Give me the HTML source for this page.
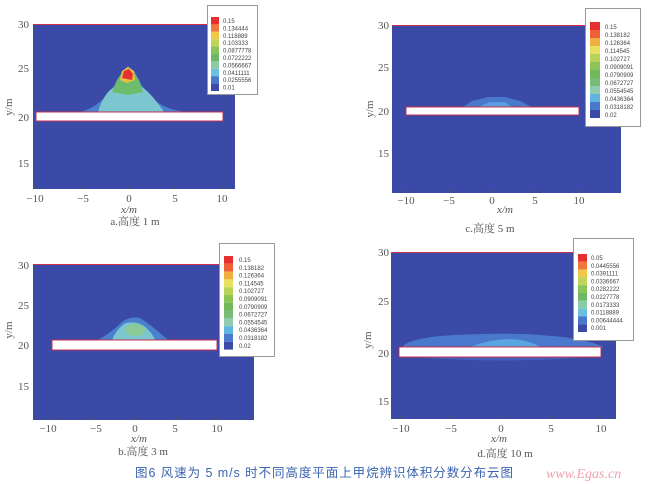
<!DOCTYPE html>
<html><head><meta charset="utf-8"><style>
html,body{margin:0;padding:0;background:#fff;}
svg{display:block}
.t{font-family:"Liberation Serif","Noto Serif CJK SC",serif;fill:#555;font-size:11px}
.l{font-family:"Liberation Sans",sans-serif;fill:#444;font-size:6px}
.k{stroke:#555;stroke-width:1}
</style></head><body>
<svg width="650" height="484" viewBox="0 0 650 484" xmlns="http://www.w3.org/2000/svg">
<rect width="650" height="484" fill="#fff"/>
<!-- Panel a -->
<rect x="33" y="24" width="202" height="165" fill="#3a4aa6"/>
<line x1="33" y1="24.5" x2="210" y2="24.5" stroke="#d03050" stroke-width="1"/>
<path d="M80,112 Q95,108 105,97 Q118,82 122,72 L128,66 L135,72 Q140,85 152,98 Q165,110 187,112 Z" fill="#4a80cc"/>
<path d="M98,112 Q102,98 110,90 Q118,84 128,83 Q140,84 148,92 Q156,100 164,112 Z" fill="#7cc6d0"/>
<polygon points="112,92 117,80 123,71 133,71 139,80 143,92 128,95" fill="#6cbc6c"/>
<polygon points="120,80 122,71 128,67 134,71 135,80 127,83" fill="#e8c040"/>
<polygon points="122,78 124,71 129,69 133,74 132,80" fill="#e63030"/>
<rect x="36" y="112" width="187" height="9" fill="#fff" stroke="#c83050" stroke-width="1"/>
<g class="k"><line x1="35" y1="189" x2="35" y2="186"/><line x1="82" y1="189" x2="82" y2="186"/><line x1="129" y1="189" x2="129" y2="186"/><line x1="175" y1="189" x2="175" y2="186"/><line x1="222" y1="189" x2="222" y2="186"/></g>
<g class="t" text-anchor="end"><text x="29" y="28">30</text><text x="29" y="72">25</text><text x="29" y="121">20</text><text x="29" y="167">15</text></g>
<g class="t" text-anchor="middle"><text x="35" y="202">−10</text><text x="83" y="202">−5</text><text x="129" y="202">0</text><text x="175" y="202">5</text><text x="222" y="202">10</text>
<text x="129" y="213" font-style="italic">x/m</text><text x="135" y="225">a.高度 1 m</text></g>
<text class="t" transform="translate(12,107) rotate(-90)" text-anchor="middle">y/m</text>
<rect x="207.5" y="5.5" width="50" height="89" fill="#fff" stroke="#999"/>
<g>
<rect x="211" y="17" width="8" height="7.4" fill="#e63030"/><rect x="211" y="24.4" width="8" height="7.4" fill="#f07838"/><rect x="211" y="31.8" width="8" height="7.4" fill="#f0c848"/><rect x="211" y="39.2" width="8" height="7.4" fill="#c0d458"/><rect x="211" y="46.6" width="8" height="7.4" fill="#88c458"/><rect x="211" y="54" width="8" height="7.4" fill="#6cb866"/><rect x="211" y="61.4" width="8" height="7.4" fill="#8ccaa8"/><rect x="211" y="68.8" width="8" height="7.4" fill="#6cc0e0"/><rect x="211" y="76.2" width="8" height="7.4" fill="#4a78cc"/><rect x="211" y="83.6" width="8" height="7.4" fill="#3a4aa6"/>
</g>
<g class="l"><text x="223" y="23">0.15</text><text x="223" y="30.4">0.134444</text><text x="223" y="37.8">0.118889</text><text x="223" y="45.2">0.103333</text><text x="223" y="52.6">0.0877778</text><text x="223" y="60">0.0722222</text><text x="223" y="67.4">0.0566667</text><text x="223" y="74.8">0.0411111</text><text x="223" y="82.2">0.0255556</text><text x="223" y="89.6">0.01</text></g>

<!-- Panel c -->
<rect x="392" y="25" width="229" height="168" fill="#3a4aa6"/>
<line x1="392" y1="25.5" x2="585" y2="25.5" stroke="#d03050"/>
<polygon points="463,107 472,101 488,97 505,97 520,101 532,107" fill="#4a78cc"/>
<polygon points="478,107 490,102 505,102 512,107" fill="#5a9ee0"/>
<rect x="406" y="107" width="173" height="8" fill="#fff" stroke="#c83050"/>
<g class="k"><line x1="406" y1="193" x2="406" y2="190"/><line x1="449" y1="193" x2="449" y2="190"/><line x1="492" y1="193" x2="492" y2="190"/><line x1="535" y1="193" x2="535" y2="190"/><line x1="579" y1="193" x2="579" y2="190"/></g>
<g class="t" text-anchor="end"><text x="389" y="29">30</text><text x="389" y="71">25</text><text x="389" y="115">20</text><text x="389" y="157">15</text></g>
<g class="t" text-anchor="middle"><text x="406" y="204">−10</text><text x="449" y="204">−5</text><text x="492" y="204">0</text><text x="535" y="204">5</text><text x="579" y="204">10</text>
<text x="505" y="213" font-style="italic">x/m</text><text x="490" y="232">c.高度 5 m</text></g>
<text class="t" transform="translate(373,109) rotate(-90)" text-anchor="middle">y/m</text>
<rect x="585.5" y="8.5" width="55" height="118" fill="#fff" stroke="#999"/>
<g>
<rect x="590" y="22" width="10" height="8" fill="#e63030"/><rect x="590" y="30" width="10" height="8" fill="#f06038"/><rect x="590" y="38" width="10" height="8" fill="#f0b040"/><rect x="590" y="46" width="10" height="8" fill="#e8e060"/><rect x="590" y="54" width="10" height="8" fill="#b8d458"/><rect x="590" y="62" width="10" height="8" fill="#8cc458"/><rect x="590" y="70" width="10" height="8" fill="#70b858"/><rect x="590" y="78" width="10" height="8" fill="#78bc78"/><rect x="590" y="86" width="10" height="8" fill="#90ccb0"/><rect x="590" y="94" width="10" height="8" fill="#60b4e0"/><rect x="590" y="102" width="10" height="8" fill="#4a78cc"/><rect x="590" y="110" width="10" height="8" fill="#3a4aa6"/>
</g>
<g class="l"><text x="605" y="29">0.15</text><text x="605" y="37">0.138182</text><text x="605" y="45">0.126364</text><text x="605" y="53">0.114545</text><text x="605" y="61">0.102727</text><text x="605" y="69">0.0909091</text><text x="605" y="77">0.0790909</text><text x="605" y="85">0.0672727</text><text x="605" y="93">0.0554545</text><text x="605" y="101">0.0436364</text><text x="605" y="109">0.0318182</text><text x="605" y="117">0.02</text></g>

<!-- Panel b -->
<rect x="33" y="264" width="221" height="156" fill="#3a4aa6"/>
<line x1="33" y1="264.5" x2="219" y2="264.5" stroke="#d03050"/>
<path d="M98,340 Q112,332 122,322 Q130,316 140,318 Q150,324 168,340 Z" fill="#4a80cc"/>
<path d="M112,340 Q116,330 124,324 Q134,320 144,326 Q152,332 155,340 Z" fill="#7cc6d0"/>
<ellipse cx="135" cy="330" rx="10" ry="6" fill="#8cca98"/>
<rect x="52" y="340" width="165" height="10" fill="#fff" stroke="#c83050"/>
<g class="k"><line x1="52" y1="420" x2="52" y2="417"/><line x1="93" y1="420" x2="93" y2="417"/><line x1="135" y1="420" x2="135" y2="417"/><line x1="176" y1="420" x2="176" y2="417"/><line x1="217" y1="420" x2="217" y2="417"/></g>
<g class="t" text-anchor="end"><text x="29" y="269">30</text><text x="29" y="309">25</text><text x="29" y="349">20</text><text x="29" y="390">15</text></g>
<g class="t" text-anchor="middle"><text x="48" y="432">−10</text><text x="96" y="432">−5</text><text x="135" y="432">0</text><text x="175" y="432">5</text><text x="217" y="432">10</text>
<text x="139" y="442" font-style="italic">x/m</text><text x="143" y="455">b.高度 3 m</text></g>
<text class="t" transform="translate(12,330) rotate(-90)" text-anchor="middle">y/m</text>
<rect x="219.5" y="243.5" width="55" height="113" fill="#fff" stroke="#999"/>
<g>
<rect x="224" y="256" width="9" height="7.8" fill="#e63030"/><rect x="224" y="263.8" width="9" height="7.8" fill="#f06038"/><rect x="224" y="271.6" width="9" height="7.8" fill="#f0b040"/><rect x="224" y="279.4" width="9" height="7.8" fill="#e8e060"/><rect x="224" y="287.2" width="9" height="7.8" fill="#b8d458"/><rect x="224" y="295" width="9" height="7.8" fill="#8cc458"/><rect x="224" y="302.8" width="9" height="7.8" fill="#70b858"/><rect x="224" y="310.6" width="9" height="7.8" fill="#78bc78"/><rect x="224" y="318.4" width="9" height="7.8" fill="#90ccb0"/><rect x="224" y="326.2" width="9" height="7.8" fill="#60b4e0"/><rect x="224" y="334" width="9" height="7.8" fill="#4a78cc"/><rect x="224" y="341.8" width="9" height="7.8" fill="#3a4aa6"/>
</g>
<g class="l"><text x="239" y="262">0.15</text><text x="239" y="269.8">0.138182</text><text x="239" y="277.6">0.126364</text><text x="239" y="285.4">0.114545</text><text x="239" y="293.2">0.102727</text><text x="239" y="301">0.0909091</text><text x="239" y="308.8">0.0790909</text><text x="239" y="316.6">0.0672727</text><text x="239" y="324.4">0.0554545</text><text x="239" y="332.2">0.0436364</text><text x="239" y="340">0.0318182</text><text x="239" y="347.8">0.02</text></g>

<!-- Panel d -->
<rect x="391" y="252" width="225" height="167" fill="#3a4aa6"/>
<line x1="391" y1="252.5" x2="574" y2="252.5" stroke="#d03050"/>
<path d="M403,347 Q405,340 440,336 Q480,333 520,334 Q580,336 604,347 Z" fill="#4a78cc"/>
<path d="M470,347 Q490,339 510,339 Q530,340 540,347 Z" fill="#5aa4e0"/>
<path d="M415,357 Q500,364 590,357 Z" fill="#4560bc"/>
<rect x="399" y="347" width="202" height="10" fill="#fff" stroke="#c83050"/>
<g class="k"><line x1="401" y1="419" x2="401" y2="416"/><line x1="451" y1="419" x2="451" y2="416"/><line x1="501" y1="419" x2="501" y2="416"/><line x1="551" y1="419" x2="551" y2="416"/><line x1="601" y1="419" x2="601" y2="416"/></g>
<g class="t" text-anchor="end"><text x="389" y="256">30</text><text x="389" y="305">25</text><text x="389" y="357">20</text><text x="389" y="405">15</text></g>
<g class="t" text-anchor="middle"><text x="401" y="432">−10</text><text x="451" y="432">−5</text><text x="501" y="432">0</text><text x="551" y="432">5</text><text x="601" y="432">10</text>
<text x="499" y="442" font-style="italic">x/m</text><text x="505" y="457">d.高度 10 m</text></g>
<text class="t" transform="translate(371,340) rotate(-90)" text-anchor="middle">y/m</text>
<rect x="573.5" y="238.5" width="60" height="102" fill="#fff" stroke="#999"/>
<g>
<rect x="578" y="254" width="9" height="7.8" fill="#e63030"/><rect x="578" y="261.8" width="9" height="7.8" fill="#f07838"/><rect x="578" y="269.6" width="9" height="7.8" fill="#f0c848"/><rect x="578" y="277.4" width="9" height="7.8" fill="#c0d458"/><rect x="578" y="285.2" width="9" height="7.8" fill="#88c458"/><rect x="578" y="293" width="9" height="7.8" fill="#6cb866"/><rect x="578" y="300.8" width="9" height="7.8" fill="#8ccaa8"/><rect x="578" y="308.6" width="9" height="7.8" fill="#6cc0e0"/><rect x="578" y="316.4" width="9" height="7.8" fill="#4a78cc"/><rect x="578" y="324.2" width="9" height="7.8" fill="#3a4aa6"/>
</g>
<g class="l"><text x="591" y="260">0.05</text><text x="591" y="267.8">0.0445556</text><text x="591" y="275.6">0.0391111</text><text x="591" y="283.4">0.0336667</text><text x="591" y="291.2">0.0282222</text><text x="591" y="299">0.0227778</text><text x="591" y="306.8">0.0173333</text><text x="591" y="314.6">0.0118889</text><text x="591" y="322.4">0.00644444</text><text x="591" y="330.2">0.001</text></g>

<text x="135" y="477" font-family="'Liberation Sans','Noto Sans CJK SC',sans-serif" font-size="12.5" fill="#3a64b0" textLength="378">图6  风速为 5 m/s 时不同高度平面上甲烷辨识体积分数分布云图</text>
<text x="546" y="478" font-family="'Liberation Serif',serif" font-style="italic" font-size="14" fill="#f0a0b0">www.Egas.cn</text>
</svg>
</body></html>
